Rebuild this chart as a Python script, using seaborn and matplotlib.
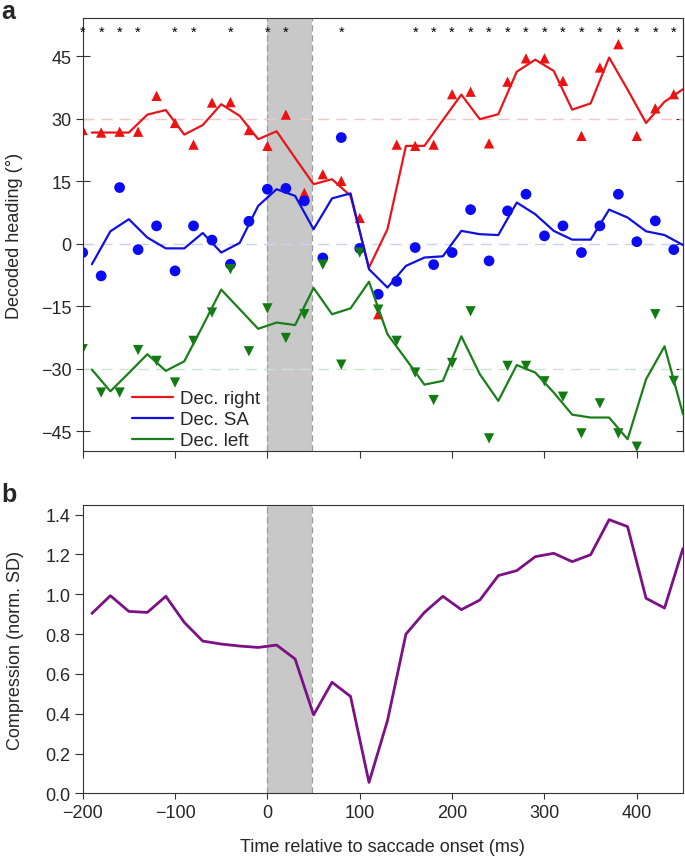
import numpy as np
import pandas as pd
import matplotlib
matplotlib.use("Agg")
import matplotlib.pyplot as plt
import seaborn as sns

# time bases (ms relative to saccade onset)
t_pts = list(range(-200, 441, 20))    # single decoded points
t_line = list(range(-190, 451, 20))   # running-average curves

# decoded heading (deg), points
red_pts = [27.3, 26.7, 26.9, 26.9, 35.5, 29.0, 23.8, 33.9, 34.0, 27.3,
           23.5, 31.0, 12.2, 16.7, 15.1, 6.2, -16.9, 23.8, 23.5, 23.8,
           35.9, 36.5, 24.1, 38.9, 44.5, 44.5, 39.1, 25.9, 42.3, 47.9,
           25.9, 32.5, 35.9]
blue_pts = [-2.1, -7.7, 13.5, -1.4, 4.3, -6.5, 4.3, 0.9, -4.9, 5.4,
            13.1, 13.3, 10.3, -3.4, 25.5, -1.1, -12.1, -9.0, -0.9, -5.0,
            -2.1, 8.2, -4.1, 7.9, 11.9, 1.9, 4.3, -2.1, 4.3, 11.9,
            0.5, 5.5, -1.4]
green_pts = [-25.3, -35.7, -35.7, -25.5, -28.1, -33.3, -23.3, -16.5, -6.1, -25.8,
             -15.5, -22.6, -16.9, -5.0, -29.0, -2.1, -15.8, -23.3, -30.9, -37.5,
             -28.6, -16.2, -46.7, -29.3, -29.3, -33.0, -36.7, -45.5, -38.3, -45.5,
             -48.7, -16.9, -32.9]

# decoded heading (deg), curves
red_line = [26.7, 26.7, 26.7, 31.0, 32.1, 26.2, 28.5, 33.5, 30.7, 25.1,
            27.0, 20.6, 14.3, 15.5, 11.5, -5.7, 3.5, 23.5, 23.5, 29.7,
            35.8, 29.9, 31.1, 41.3, 44.2, 41.5, 32.2, 33.7, 44.7, 37.0,
            29.0, 34.1, 37.1]
blue_line = [-4.9, 3.0, 5.9, 1.5, -1.1, -1.1, 2.6, -2.1, 0.2, 9.1,
             13.1, 11.5, 3.5, 10.9, 12.1, -6.1, -10.5, -5.3, -3.3, -3.0,
             3.1, 2.3, 2.1, 9.9, 7.1, 3.1, 1.0, 1.0, 8.2, 6.3,
             3.0, 2.1, -0.3]
green_line = [-30.2, -35.4, -31.0, -26.5, -30.5, -28.2, -19.7, -11.0, -15.7, -20.4,
              -18.9, -19.5, -10.6, -16.9, -15.5, -9.1, -21.7, -27.7, -33.8, -32.9,
              -22.2, -31.3, -37.7, -29.1, -30.9, -35.7, -41.0, -41.7, -41.7, -46.9,
              -32.5, -24.6, -40.9]

# significant time bins
star_t = [-200, -180, -160, -140, -100, -80, -40, 0, 20, 80,
          160, 180, 200, 220, 240, 260, 280, 300, 320, 340,
          360, 380, 400, 420, 440]

# compression (norm. SD)
compression = [0.904, 0.993, 0.914, 0.909, 0.99, 0.859, 0.765, 0.75, 0.74, 0.733,
               0.745, 0.675, 0.394, 0.558, 0.487, 0.055, 0.365, 0.80, 0.909, 0.99,
               0.923, 0.971, 1.094, 1.119, 1.189, 1.206, 1.164, 1.199, 1.375, 1.34,
               0.98, 0.931, 1.231]

saccade = (0, 48)

sns.set_style("ticks")
plt.rcParams['font.family'] = ['Liberation Sans', 'DejaVu Sans']
plt.rcParams['font.size'] = 13
plt.rcParams['axes.edgecolor'] = '#333333'
plt.rcParams['axes.linewidth'] = 0.8

c_red, c_blue, c_green = '#e8161b', '#1010e0', '#1a7f1a'
c_red_m, c_blue_m, c_green_m = '#ee1111', '#0a0af5', '#137a13'

fig = plt.figure(figsize=(6.85, 8.62), dpi=100)
ax1 = fig.add_axes([0.1207, 0.4753, 0.8764, 0.5027])
ax2 = fig.add_axes([0.1207, 0.0785, 0.8764, 0.3348])

# ---- panel a ----
ax1.axvspan(*saccade, color='#c8c8c8', lw=0, zorder=0)
for xv in saccade:
    ax1.axvline(xv, color='#9a9a9a', lw=0.9, ls=(0, (5, 3)), zorder=1)
ax1.axhline(30, color='#f5c4c4', lw=1, ls=(0, (8, 5)), zorder=1)
ax1.axhline(0, color='#cdd0f5', lw=1, ls=(0, (8, 5)), zorder=1)
ax1.axhline(-30, color='#cfe3cf', lw=1, ls=(0, (8, 5)), zorder=1)

sns.scatterplot(x=t_pts, y=red_pts, marker='^', color=c_red_m, s=55,
                edgecolor='none', ax=ax1, legend=False, zorder=2)
sns.scatterplot(x=t_pts, y=blue_pts, marker='o', color=c_blue_m, s=60,
                edgecolor='none', ax=ax1, legend=False, zorder=2)
sns.scatterplot(x=t_pts, y=green_pts, marker='v', color=c_green_m, s=55,
                edgecolor='none', ax=ax1, legend=False, zorder=2)

sns.lineplot(x=t_line, y=red_line, color=c_red, lw=1.6, ax=ax1, label='Dec. right', zorder=3)
sns.lineplot(x=t_line, y=blue_line, color=c_blue, lw=1.6, ax=ax1, label='Dec. SA', zorder=3)
sns.lineplot(x=t_line, y=green_line, color=c_green, lw=1.6, ax=ax1, label='Dec. left', zorder=3)

for t in star_t:
    ax1.text(t, 51.0, '*', ha='center', va='center', fontsize=10.5, color='black')

ax1.set_xlim(-200, 450)
ax1.set_ylim(-49.8, 54.2)
ax1.set_yticks([-45, -30, -15, 0, 15, 30, 45])
ax1.set_xticks([-200, -100, 0, 100, 200, 300, 400])
ax1.set_xticklabels([])
ax1.tick_params(axis='y', which='both', left=True, right=False, direction='inout',
                length=10, width=0.8, pad=3, labelsize=13, color='#333333')
ax1.tick_params(axis='x', direction='out', length=5, width=0.8, color='#333333')
ax1r = ax1.secondary_yaxis('right')
ax1r.set_yticks([-45, -30, -15, 0, 15, 30, 45])
ax1r.tick_params(direction='in', length=5, width=0.8, labelright=False, color='#333333')
ax1.set_ylabel('Decoded heading (°)', fontsize=13)
ax1.yaxis.set_label_coords(-0.100, 0.5)
ax1.set_xlabel('')
ax1.legend(loc='lower left', bbox_to_anchor=(0.082, 0.005), frameon=False,
           borderpad=0, borderaxespad=0, handlelength=2.2, handletextpad=0.35,
           labelspacing=0.2, fontsize=13.5)

# ---- panel b ----
ax2.axvspan(*saccade, color='#c8c8c8', lw=0, zorder=0)
for xv in saccade:
    ax2.axvline(xv, color='#9a9a9a', lw=0.9, ls=(0, (5, 3)), zorder=1)
sns.lineplot(x=t_line, y=compression, color='#7b1185', lw=2.0, ax=ax2, zorder=3)
ax2.set_xlim(-200, 450)
ax2.set_ylim(0, 1.45)
ax2.set_yticks(np.arange(0, 1.41, 0.2))
ax2.set_yticklabels([f'{v:.1f}' for v in np.arange(0, 1.41, 0.2)])
ax2.set_xticks([-200, -100, 0, 100, 200, 300, 400])
ax2.set_xticklabels(['\u2212200', '\u2212100', '0', '100', '200', '300', '400'])
ax2.tick_params(axis='y', direction='out', length=6, width=0.8, pad=3, labelsize=13,
                color='#333333')
ax2.tick_params(axis='x', direction='out', length=4, width=0.8, pad=4, labelsize=13,
                color='#333333')
ax2.set_ylabel('Compression (norm. SD)', fontsize=13)
ax2.yaxis.set_label_coords(-0.097, 0.5)
ax2.set_xlabel('Time relative to saccade onset (ms)', fontsize=13)
ax2.xaxis.set_label_coords(0.5, -0.155)

fig.text(0.002, 0.978, 'a', fontsize=18, fontweight='bold', va='baseline')
fig.text(0.002, 0.418, 'b', fontsize=18, fontweight='bold', va='baseline')

fig.savefig('out.png', dpi=100)
